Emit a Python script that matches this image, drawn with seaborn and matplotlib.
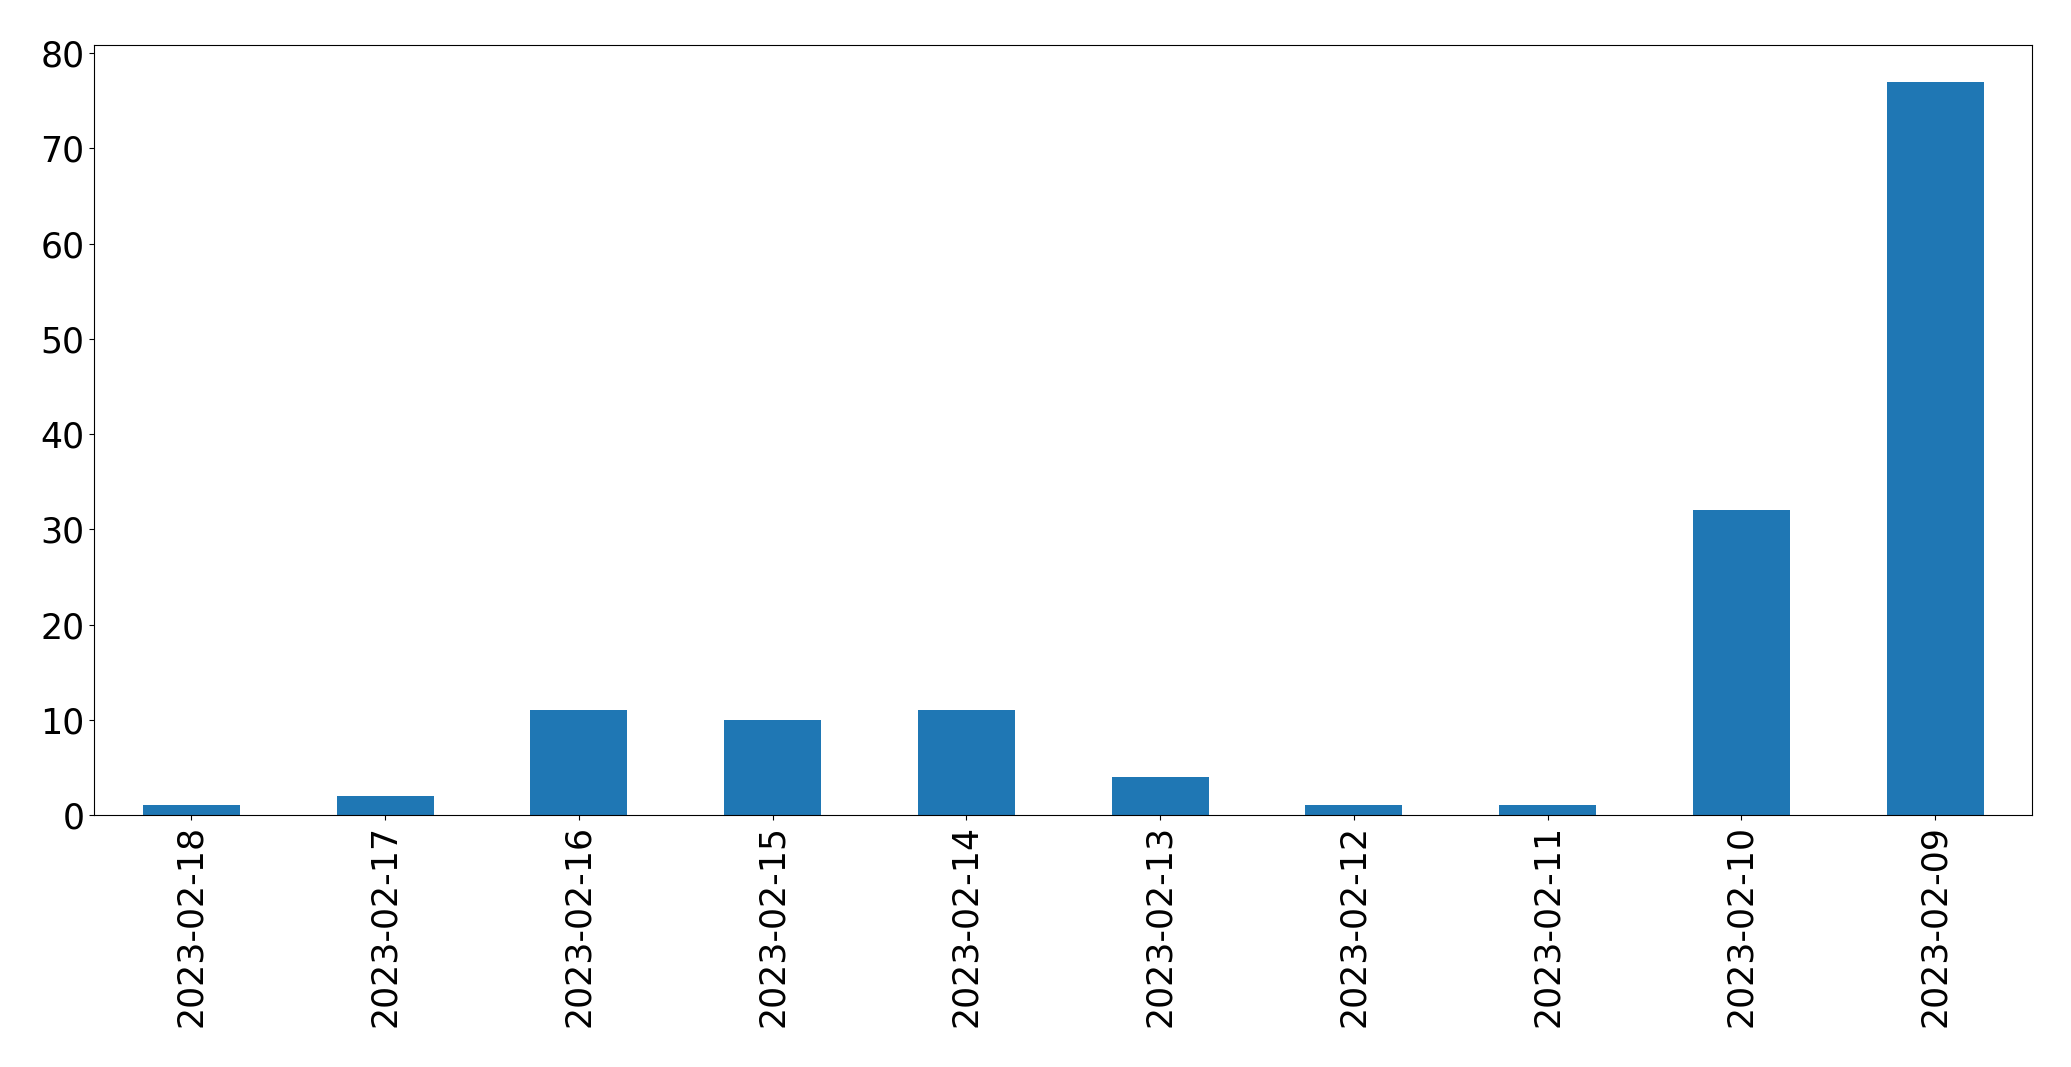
import pandas as pd
import matplotlib
matplotlib.use("Agg")
import matplotlib.pyplot as plt
import seaborn as sns

# --------------------------------------------
# Data: counts per day (newest first)
# --------------------------------------------
dates = ["2023-02-18", "2023-02-17", "2023-02-16", "2023-02-15", "2023-02-14",
         "2023-02-13", "2023-02-12", "2023-02-11", "2023-02-10", "2023-02-09"]
counts = [1, 2, 11, 10, 11, 4, 1, 1, 32, 77]

df = pd.DataFrame({"date": dates, "count": counts})

# --------------------------------------------
# Plot
# --------------------------------------------
fig = plt.figure(figsize=(20.71, 10.67), dpi=100)
ax = fig.add_axes([0.0456, 0.2362, 0.9356, 0.7216])

sns.barplot(data=df, x="date", y="count", order=dates, color="#1f77b4",
            saturation=1, width=0.5, ax=ax)

ax.set_xlim(-0.5, len(dates) - 0.5)
ax.set_ylim(0, max(counts) * 1.05)
ax.set_xlabel("")
ax.set_ylabel("")
for s in ax.spines.values():
    s.set_edgecolor("black")
ax.tick_params(axis="both", labelsize=25)
ax.tick_params(axis="x", labelrotation=90)

fig.savefig("out.png", dpi=100)
plt.close()
